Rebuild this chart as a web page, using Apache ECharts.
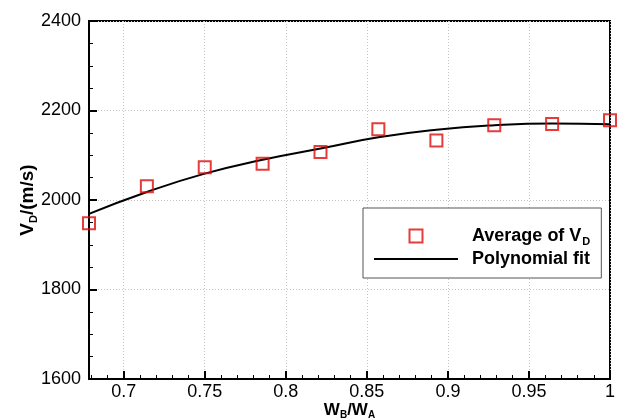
<!DOCTYPE html>
<html>
<head>
<meta charset="utf-8">
<script src="https://cdn.jsdelivr.net/npm/echarts@6/dist/echarts.min.js"></script>
<style>html,body{margin:0;padding:0;background:#fff}#c{width:618px;height:420px}</style>
</head>
<body>
<div id="c"></div>
<script>
// Data
var xValues = [0.6786, 0.7143, 0.75, 0.7857, 0.8214, 0.8571, 0.8929, 0.9286, 0.9643, 1.0];
var avgVD   = [1948, 2031, 2073, 2081, 2107, 2158, 2133, 2167, 2170, 2178];
var fitVD   = [1969, 2018, 2059, 2090, 2115, 2140, 2157, 2167, 2171, 2169];
var xTicks  = [0.7, 0.75, 0.8, 0.85, 0.9, 0.95, 1];
var xMinorTicks = [0.68, 0.69, 0.71, 0.72, 0.73, 0.74, 0.76, 0.77, 0.78, 0.79, 0.81, 0.82, 0.83, 0.84, 0.86, 0.87, 0.88, 0.89, 0.91, 0.92, 0.93, 0.94, 0.96, 0.97, 0.98, 0.99];
var yTicks  = [1600, 1800, 2000, 2200, 2400];

var FONT = "'Liberation Sans', Arial, sans-serif";
var RED = '#e00a0a';
var chart = echarts.init(document.getElementById('c'));

function pairs(xs, ys) { return xs.map(function (x, i) { return [x, ys[i]]; }); }

chart.setOption({
  animation: false,
  backgroundColor: '#fff',
  grid: { left: 89, right: 8, top: 21, bottom: 41, show: true, borderColor: '#000', borderWidth: 2,
          backgroundColor: 'transparent', outerBoundsMode: 'none', containLabel: false },
  legend: {
    orient: 'vertical',
    left: 363, top: 208,
    padding: [19, 11, 10, 11],
    backgroundColor: '#fff',
    borderColor: '#555', borderWidth: 1,
    itemWidth: 84, itemHeight: 13, itemGap: 3,
    textStyle: {
      padding: [0, 0, 0, 9],
      rich: {
        a: { fontFamily: FONT, fontSize: 18, fontWeight: 'bold', color: '#000', lineHeight: 22 },
        s: { fontFamily: FONT, fontSize: 11, fontWeight: 'bold', color: '#000', lineHeight: 11, verticalAlign: 'bottom', padding: [0, 0, 0, 1] }
      }
    },
    formatter: function (name) {
      return name === 'Average of VD' ? '{a|Average of V}{s|D}' : '{a|' + name + '}';
    },
    data: [
      { name: 'Average of VD', icon: 'path://M0,0L10,0L10,10L0,10Z',
        itemStyle: { color: 'rgba(255,255,255,0)', borderColor: RED, borderWidth: 2 } },
      { name: 'Polynomial fit', icon: 'path://M0,0L84,0L84,2L0,2Z',
        itemStyle: { color: '#000', borderWidth: 0 } }
    ]
  },
  xAxis: [{
    type: 'value',
    min: xValues[0], max: 1,
    name: '{a|W}{s|B}{a|/W}{s|A}',
    nameLocation: 'middle', nameGap: 21, nameMoveOverlap: false,
    nameTextStyle: {
      rich: {
        a: { fontFamily: FONT, fontSize: 17, fontWeight: 'bold', color: '#000', lineHeight: 20 },
        s: { fontFamily: FONT, fontSize: 10, fontWeight: 'bold', color: '#000', lineHeight: 9, verticalAlign: 'bottom' }
      }
    },
    axisLine: { show: true, lineStyle: { color: '#000', width: 2 } },
    axisTick: { show: true, inside: true, length: 8, customValues: xTicks, lineStyle: { color: '#000', width: 2 } },
    axisLabel: { customValues: xTicks, fontFamily: FONT, fontSize: 18, color: '#000', margin: 4 },
    splitLine: { show: true, lineStyle: { color: '#c4c4c4', type: [1, 2], width: 1 } }
  }, {
    type: 'value',
    min: xValues[0], max: 1,
    position: 'bottom',
    axisLine: { show: false },
    axisTick: { show: true, inside: true, length: 4, customValues: xMinorTicks, lineStyle: { color: '#000', width: 1 } },
    axisLabel: { show: false },
    splitLine: { show: false }
  }],
  yAxis: {
    type: 'value',
    min: 1600, max: 2400, interval: 200,
    name: '{a|V}{s|D}{a|/(m/s)}',
    nameLocation: 'middle', nameGap: 50, nameMoveOverlap: false,
    nameTextStyle: {
      rich: {
        a: { fontFamily: FONT, fontSize: 19, fontWeight: 'bold', color: '#000', lineHeight: 22 },
        s: { fontFamily: FONT, fontSize: 11, fontWeight: 'bold', color: '#000', lineHeight: 10, verticalAlign: 'bottom' }
      }
    },
    axisLine: { show: true, lineStyle: { color: '#000', width: 2 } },
    axisTick: { show: true, inside: true, length: 8, lineStyle: { color: '#000', width: 2 } },
    minorTick: { show: true, splitNumber: 4, length: 4, lineStyle: { color: '#000', width: 1 } },
    axisLabel: { fontFamily: FONT, fontSize: 18, color: '#000', margin: 8,
      formatter: function (v) { return yTicks.indexOf(v) >= 0 ? String(v) : ''; } },
    splitLine: { show: true, lineStyle: { color: '#c4c4c4', type: [1, 2], width: 1 } }
  },
  series: [{
    name: 'Polynomial fit',
    type: 'line',
    data: pairs(xValues, fitVD),
    smooth: 0.5,
    showSymbol: false,
    symbol: 'none',
    symbolKeepAspect: true,
    lineStyle: { color: '#000', width: 2 },
    itemStyle: { color: '#000' },
    z: 2
  }, {
    name: 'Average of VD',
    type: 'scatter',
    data: pairs(xValues, avgVD),
    symbol: 'rect',
    symbolSize: 12,
    symbolKeepAspect: true,
    clip: false,
    itemStyle: { color: 'rgba(255,255,255,0)', borderColor: RED, borderWidth: 2 },
    z: 3
  }]
});
</script>
</body>
</html>
